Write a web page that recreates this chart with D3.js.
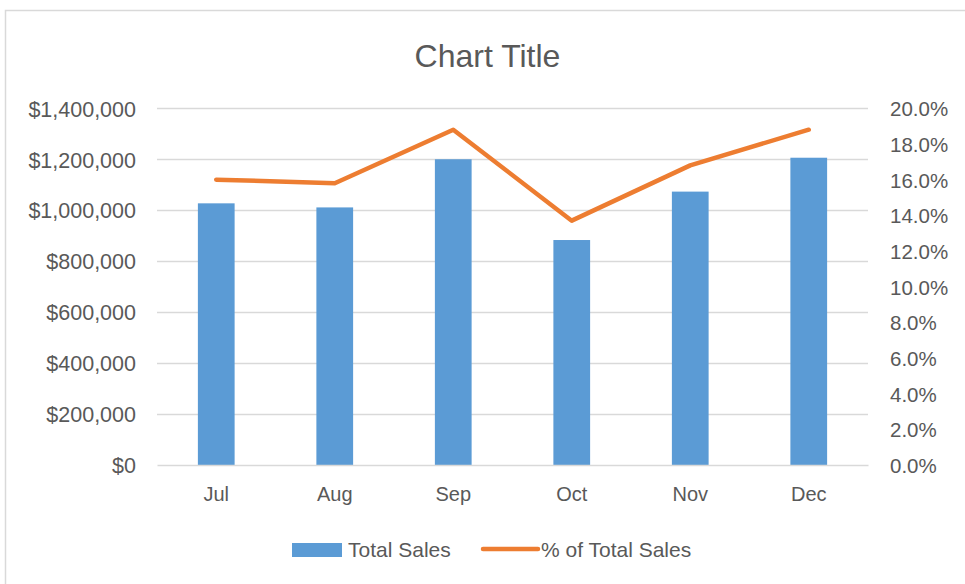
<!DOCTYPE html>
<html>
<head>
<meta charset="utf-8">
<script src="https://cdn.jsdelivr.net/npm/d3@7/dist/d3.min.js"></script>
<style>
  html, body { margin: 0; padding: 0; background: #fff; }
  svg { display: block; }
  text { font-family: "Liberation Sans", Arial, sans-serif; fill: #595959; }
</style>
</head>
<body>
<svg id="chart" width="965" height="584"></svg>
<script>
const categories = ["Jul", "Aug", "Sep", "Oct", "Nov", "Dec"];
const totalSales = [1027000, 1011000, 1200000, 883000, 1073000, 1206000];
const pctOfTotal = [0.160, 0.158, 0.188, 0.137, 0.168, 0.188];
const leftTicks = [0, 200000, 400000, 600000, 800000, 1000000, 1200000, 1400000];
const rightTicks = [0, 0.02, 0.04, 0.06, 0.08, 0.10, 0.12, 0.14, 0.16, 0.18, 0.20];
const seriesNames = ["Total Sales", "% of Total Sales"];
const chartTitle = "Chart Title";

const svg = d3.select("#chart");
const plot = { left: 157, right: 868, top: 108.3, bottom: 465 };

// chart border
svg.append("rect")
  .attr("x", 5.5).attr("y", 10.5)
  .attr("width", 990).attr("height", 620)
  .attr("fill", "none").attr("stroke", "#d9d9d9").attr("stroke-width", 1.5);

const x = d3.scaleBand().domain(categories).range([plot.left, plot.right]).paddingInner(0.69).paddingOuter(0.345);
const yL = d3.scaleLinear().domain([0, 1400000]).range([plot.bottom, plot.top]);
const yR = d3.scaleLinear().domain([0, 0.20]).range([plot.bottom, plot.top]);

// gridlines
svg.append("g").selectAll("line").data(leftTicks.slice(1)).join("line")
  .attr("x1", plot.left).attr("x2", plot.right)
  .attr("y1", d => Math.round(yL(d)) + 0.5).attr("y2", d => Math.round(yL(d)) + 0.5)
  .attr("stroke", "#d9d9d9").attr("stroke-width", 1.3);

// left axis
const fmtL = d => "$" + d3.format(",")(d);
const gL = svg.append("g").attr("transform", `translate(${plot.left},0)`)
  .call(d3.axisLeft(yL).tickValues(leftTicks).tickFormat(fmtL).tickSize(0).tickPadding(21));
gL.select(".domain").remove();
gL.selectAll("text").style("font-size", "21.5px").style("fill", "#595959").attr("dy", "0.36em");

// right axis
const gR = svg.append("g").attr("transform", `translate(${plot.right},0)`)
  .call(d3.axisRight(yR).tickValues(rightTicks).tickFormat(d3.format(".1%")).tickSize(0).tickPadding(22));
gR.select(".domain").remove();
gR.selectAll("text").style("font-size", "20.5px").style("fill", "#595959").attr("dy", "0.36em");

// bars
svg.append("g").selectAll("rect").data(categories).join("rect")
  .attr("x", d => x(d))
  .attr("width", x.bandwidth())
  .attr("y", (d, i) => yL(totalSales[i]))
  .attr("height", (d, i) => yL(0) - yL(totalSales[i]))
  .attr("fill", "#5b9bd5");

// x axis
const gX = svg.append("g").attr("transform", `translate(0,${plot.bottom})`)
  .call(d3.axisBottom(x).tickSize(0).tickPadding(22));
gX.select(".domain").attr("stroke", "#d9d9d9").attr("stroke-width", 1.5);
gX.selectAll("text").style("font-size", "20px").style("fill", "#595959");

// line
const line = d3.line()
  .x((d, i) => x(categories[i]) + x.bandwidth() / 2)
  .y(d => yR(d));
svg.append("path").datum(pctOfTotal)
  .attr("d", line)
  .attr("fill", "none").attr("stroke", "#ed7d31").attr("stroke-width", 4.5)
  .attr("stroke-linejoin", "round").attr("stroke-linecap", "round");

// title
svg.append("text").attr("x", 487.5).attr("y", 67)
  .attr("text-anchor", "middle").style("font-size", "32px").text(chartTitle);

// legend
const lg = svg.append("g");
lg.append("rect").attr("x", 292).attr("y", 543).attr("width", 50).attr("height", 14).attr("fill", "#5b9bd5");
lg.append("text").attr("x", 348).attr("y", 556.5).style("font-size", "21px").text(seriesNames[0]);
lg.append("line").attr("x1", 483).attr("x2", 538).attr("y1", 549).attr("y2", 549)
  .attr("stroke", "#ed7d31").attr("stroke-width", 4.5).attr("stroke-linecap", "round");
lg.append("text").attr("x", 541).attr("y", 556.5).style("font-size", "21px").text(seriesNames[1]);
</script>
</body>
</html>
